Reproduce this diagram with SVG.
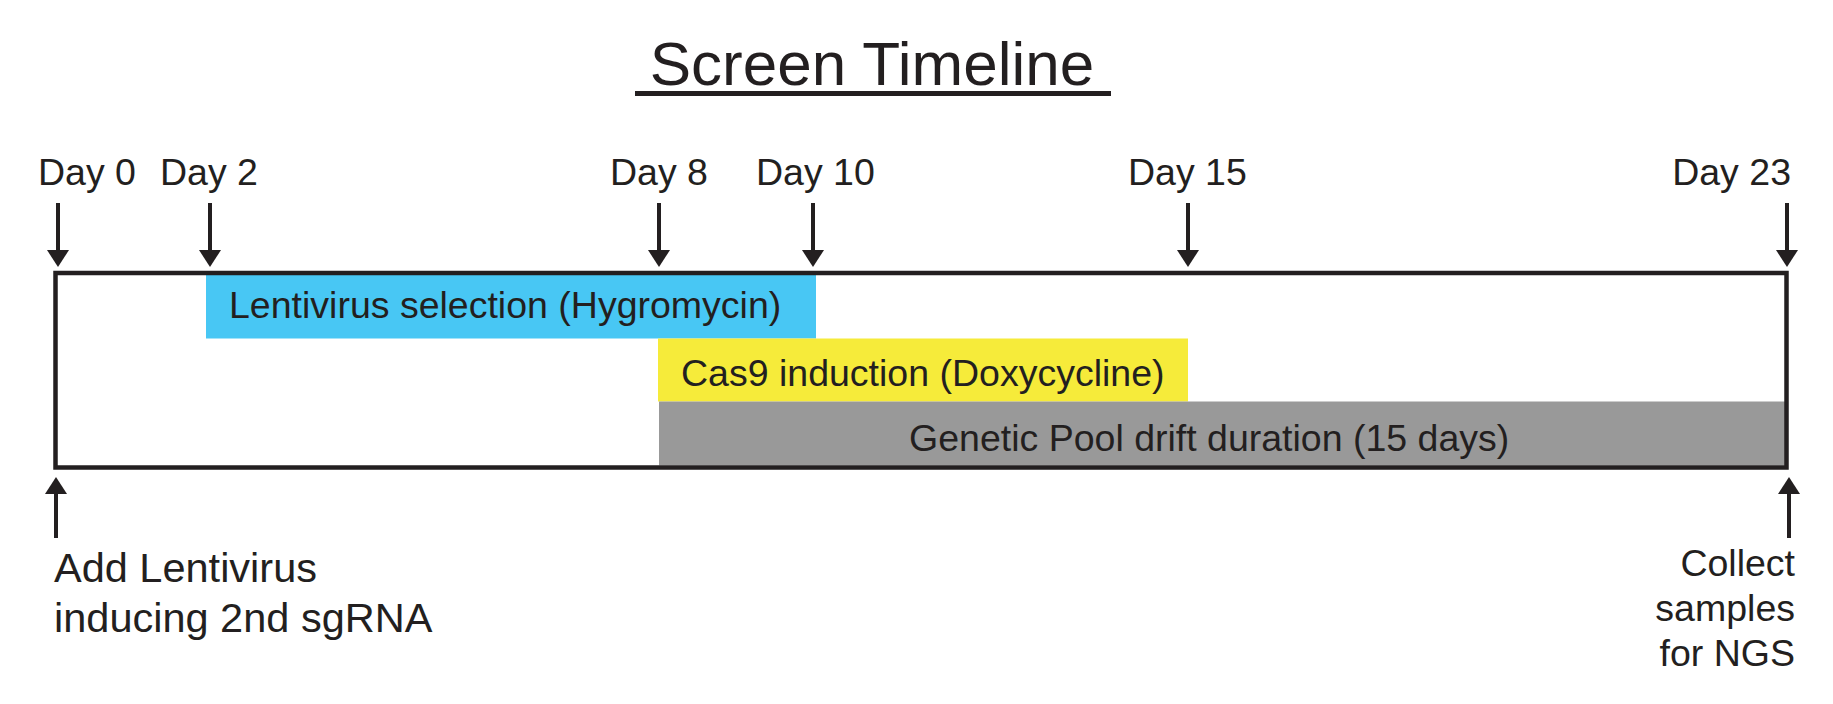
<svg xmlns="http://www.w3.org/2000/svg" width="1833" height="704" viewBox="0 0 1833 704">
<style>
.t{font-family:"Liberation Sans",Arial,Helvetica,sans-serif;fill:#231F20;font-size:37.5px}
.title{font-size:62px}
.big{font-size:41.5px}
.ln{stroke:#231F20;stroke-width:4;fill:none}
.box{stroke:#231F20;stroke-width:4.5;fill:none}
</style>
<defs>
<marker id="ah" viewBox="0 0 17 22" refX="0" refY="11" markerWidth="17" markerHeight="22" markerUnits="userSpaceOnUse" orient="auto">
<path d="M0,0 L17,11 L0,22 z" fill="#231F20"/>
</marker>
</defs>
<rect width="1833" height="704" fill="#fff"/>
<g id="title">
<text class="t title" x="872" y="85" text-anchor="middle">Screen Timeline</text>
<rect x="635" y="91" width="476" height="5" fill="#231F20"/>
</g>
<g id="bars">
<rect id="lenti" x="206" y="275" width="610" height="63.5" fill="#48C7F4"/>
<rect id="cas9" x="658" y="338.5" width="530" height="63" fill="#F6EB3A"/>
<rect id="drift" x="659" y="401.5" width="1126" height="64" fill="#999999"/>
</g>
<g id="timeline-box">
<rect class="box" x="55.5" y="273" width="1731" height="194.5"/>
</g>
<g id="bar-labels">
<text class="t" x="229" y="318">Lentivirus selection (Hygromycin)</text>
<text class="t" x="681" y="386">Cas9 induction (Doxycycline)</text>
<text class="t" x="909" y="451">Genetic Pool drift duration (15 days)</text>
</g>
<g id="day-labels">
<text class="t" x="38" y="185">Day 0</text>
<text class="t" x="160" y="185">Day 2</text>
<text class="t" x="610" y="185">Day 8</text>
<text class="t" x="756" y="185">Day 10</text>
<text class="t" x="1128" y="185">Day 15</text>
<text class="t" x="1791" y="185" text-anchor="end">Day 23</text>
</g>
<g id="connectors">
<line class="ln" x1="58" y1="203" x2="58" y2="250" marker-end="url(#ah)"/>
<line class="ln" x1="210" y1="203" x2="210" y2="250" marker-end="url(#ah)"/>
<line class="ln" x1="659" y1="203" x2="659" y2="250" marker-end="url(#ah)"/>
<line class="ln" x1="813" y1="203" x2="813" y2="250" marker-end="url(#ah)"/>
<line class="ln" x1="1188" y1="203" x2="1188" y2="250" marker-end="url(#ah)"/>
<line class="ln" x1="1787" y1="203" x2="1787" y2="250" marker-end="url(#ah)"/>
<line class="ln" x1="56" y1="538" x2="56" y2="494" marker-end="url(#ah)"/>
<line class="ln" x1="1789" y1="538" x2="1789" y2="494" marker-end="url(#ah)"/>
</g>
<g id="start-note">
<text class="t big" x="54" y="582">Add Lentivirus</text>
<text class="t big" x="54" y="632">inducing 2nd sgRNA</text>
</g>
<g id="end-note">
<text class="t" x="1795" y="576" text-anchor="end">Collect</text>
<text class="t" x="1795" y="621" text-anchor="end">samples</text>
<text class="t" x="1795" y="666" text-anchor="end">for NGS</text>
</g>
</svg>
